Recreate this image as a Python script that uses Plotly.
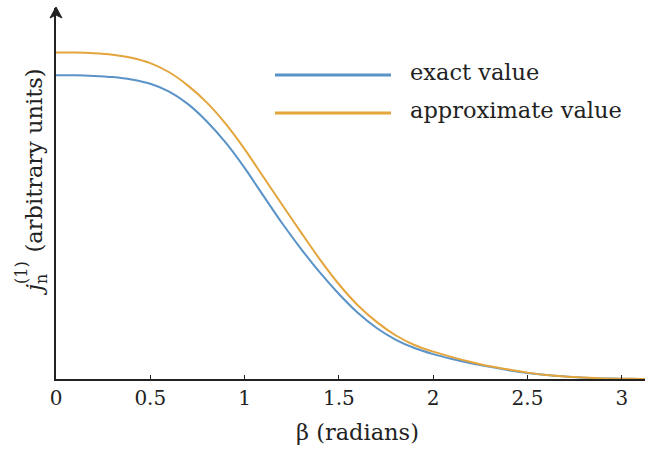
import plotly.graph_objects as go

beta = [0.0, 0.1, 0.2, 0.3, 0.4, 0.5, 0.6, 0.7, 0.8, 0.9, 1.0, 1.1, 1.2, 1.3, 1.4, 1.5,
        1.6, 1.7, 1.8, 1.9, 2.0, 2.1, 2.2, 2.3, 2.4, 2.5, 2.6, 2.7, 2.8, 2.9, 3.0, 3.1, 3.1416]
exact = [1.000, 1.000, 0.998, 0.994, 0.986, 0.972, 0.946, 0.905, 0.848, 0.778, 0.695, 0.603,
         0.512, 0.428, 0.350, 0.280, 0.218, 0.168, 0.130, 0.102, 0.082, 0.066, 0.052, 0.040,
         0.029, 0.020, 0.013, 0.008, 0.004, 0.002, 0.001, 0.000, 0.000]
approx = [1.075, 1.075, 1.073, 1.068, 1.058, 1.040, 1.010, 0.966, 0.910, 0.840, 0.757, 0.665,
          0.573, 0.482, 0.393, 0.312, 0.243, 0.188, 0.144, 0.112, 0.090, 0.072, 0.056, 0.042,
          0.031, 0.021, 0.013, 0.008, 0.005, 0.002, 0.001, 0.000, 0.000]
x_ticks = [0, 0.5, 1, 1.5, 2, 2.5, 3]
x_tick_text = ["0", "0.5", "1", "1.5", "2", "2.5", "3"]
series_names = ["exact value", "approximate value"]

BLUE = "#5a93c8"
ORANGE = "#e3a53c"
FONT = "DejaVu Serif"
INK = "#222222"

fig = go.Figure()
fig.add_trace(go.Scatter(x=beta, y=exact, mode="lines", name=series_names[0],
                         line=dict(color=BLUE, width=2, shape="spline", smoothing=0.8)))
fig.add_trace(go.Scatter(x=beta, y=approx, mode="lines", name=series_names[1],
                         line=dict(color=ORANGE, width=2, shape="spline", smoothing=0.8)))

W, H = 645, 454
ml, mr, mt, mb = 56, 0, 8, 75
PH = H - mt - mb  # plot height in px
fig.update_layout(
    width=W, height=H,
    margin=dict(l=ml, r=mr, t=mt, b=mb),
    plot_bgcolor="white", paper_bgcolor="white",
    showlegend=False,
    font=dict(family=FONT, color=INK),
    xaxis=dict(range=[0, 3.123], tickvals=x_ticks, ticktext=x_tick_text,
               showgrid=False, zeroline=False, showline=True, linecolor=INK, linewidth=2,
               ticks="inside", ticklen=4, tickwidth=1, tickcolor=INK,
               tickfont=dict(family=FONT, size=20, color=INK)),
    yaxis=dict(range=[0, 1.2216], showticklabels=False, showgrid=False, zeroline=False,
               showline=True, linecolor=INK, linewidth=2, ticks=""),
)


def px_x(p):
    return (p - ml) / (W - ml)


def px_y(p):
    return (H - mb - p) / PH


# arrow head at top of y axis
tip_x, tip_y = 56, 7
path = "M {:.5f} {:.5f} L {:.5f} {:.5f} L {:.5f} {:.5f} L {:.5f} {:.5f} Z".format(
    px_x(tip_x), px_y(tip_y),
    px_x(tip_x + 6), px_y(tip_y + 11),
    px_x(tip_x), px_y(tip_y + 8),
    px_x(tip_x - 6), px_y(tip_y + 11))
fig.add_shape(type="path", xref="paper", yref="paper", path=path,
              fillcolor=INK, line=dict(color=INK, width=1))

# axis titles
fig.add_annotation(x=px_x(357), y=px_y(432), xref="paper", yref="paper",
                   text="β (radians)", showarrow=False, xanchor="center", yanchor="middle",
                   font=dict(family=FONT, size=22.5, color=INK))
fig.add_annotation(x=px_x(36), y=px_y(298), xref="paper", yref="paper",
                   text="<i>j</i><sub>n</sub>&nbsp;&nbsp;&nbsp;(arbitrary units)", textangle=-90,
                   showarrow=False, xanchor="center", yanchor="bottom",
                   font=dict(family=FONT, size=22.5, color=INK))
fig.add_annotation(x=px_x(21), y=px_y(273), xref="paper", yref="paper",
                   text="(1)", textangle=-90,
                   showarrow=False, xanchor="center", yanchor="middle",
                   font=dict(family=FONT, size=16, color=INK))

# legend
for name, color, ly in [(series_names[0], BLUE, 75), (series_names[1], ORANGE, 113)]:
    fig.add_shape(type="line", xref="paper", yref="paper",
                  x0=px_x(275), x1=px_x(391), y0=px_y(ly), y1=px_y(ly),
                  line=dict(color=color, width=3))
    fig.add_annotation(x=px_x(408), y=px_y(ly - 3), xref="paper", yref="paper",
                       text=name, showarrow=False, xanchor="left", yanchor="middle",
                       font=dict(family=FONT, size=22.5, color=INK))

fig.write_html("out.html", config={"displayModeBar": False},
               post_script="document.body.style.margin='0';")
